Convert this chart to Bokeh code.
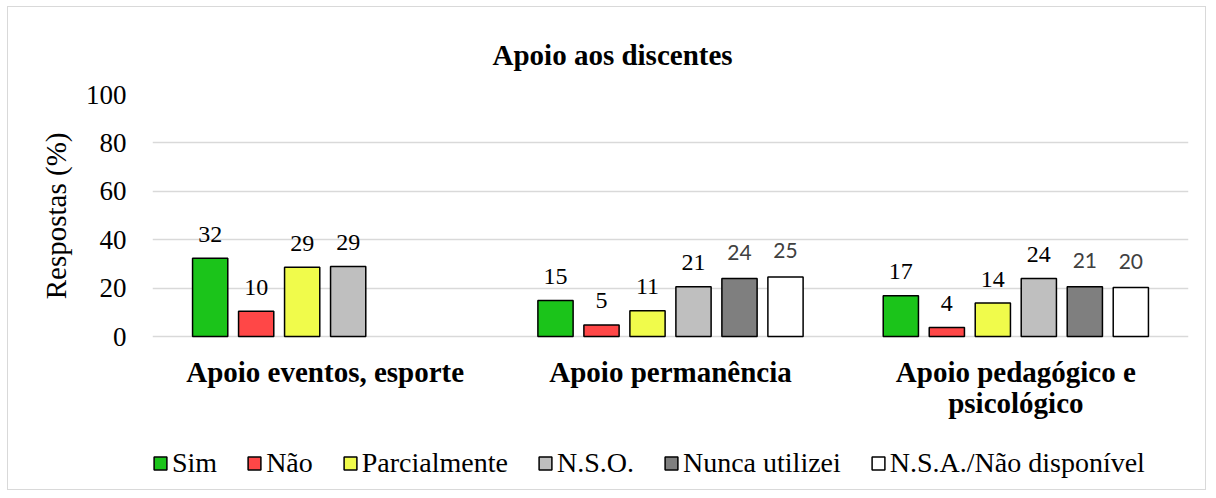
from bokeh.plotting import figure
from bokeh.models import (FactorRange, Range1d, FixedTicker, ColumnDataSource,
                          Legend, LegendItem, Title)
from bokeh.transform import dodge
from bokeh.core.properties import value
from bokeh.embed import file_html
from bokeh.resources import INLINE

# ---------------- data ----------------
chart_title = "Apoio aos discentes"
y_title = "Respostas (%)"
categories = ["Apoio eventos, esporte", "Apoio permanência",
              "Apoio pedagógico e psicológico"]
category_lines = [["Apoio eventos, esporte"], ["Apoio permanência"],
                  ["Apoio pedagógico e", "psicológico"]]
series = ["Sim", "Não", "Parcialmente", "N.S.O.", "Nunca utilizei",
          "N.S.A./Não disponível"]
sim = [32.3, 14.9, 16.8]
nao = [10.4, 4.8, 3.7]
parcialmente = [28.6, 10.6, 13.8]
nso = [28.9, 20.6, 24.0]
nunca_utilizei = [None, 24.0, 20.6]
nsa_nao_disponivel = [None, 24.6, 20.2]
y_ticks = [0, 20, 40, 60, 80, 100]

values = [sim, nao, parcialmente, nso, nunca_utilizei, nsa_nao_disponivel]
colors = ["#1BC41A", "#FF4747", "#F0FB4B", "#BFBFBF", "#7F7F7F", "#FFFFFF"]
sans_label_series = {"Nunca utilizei", "N.S.A./Não disponível"}

SERIF = "Liberation Serif"
SANS = "Lato"

# ---------------- layout ----------------
PLOT_PX = 242      # height of the 0..100 band
BELOW_PX = 153     # room under the bars for category names and legend
y_min = -100.0 * BELOW_PX / PLOT_PX

p = figure(frame_width=1036, frame_height=PLOT_PX + BELOW_PX,
           x_range=FactorRange(factors=categories, range_padding=0),
           y_range=Range1d(y_min, 100),
           x_axis_location=None,
           output_backend="svg", toolbar_location=None,
           min_border_left=144, min_border_right=17,
           min_border_top=87, min_border_bottom=0)
p.styles = {"margin": "6px 0px 0px 7px", "border": "1px solid #d9d9d9"}
p.outline_line_color = None
p.background_fill_color = "white"
p.border_fill_color = "white"

# title
p.title.text = chart_title
p.title.text_font = SERIF
p.title.text_font_style = "bold"
p.title.text_font_size = "29px"
p.title.text_color = "black"
p.title.align = "left"
p.title.vertical_align = "top"
p.title.offset = 340
p.title.standoff = 44

# grid
p.xgrid.grid_line_color = None
p.ygrid.ticker = FixedTicker(ticks=y_ticks)
p.ygrid.grid_line_color = "#d9d9d9"
p.ygrid.grid_line_width = 1.5

# y axis
ya = p.yaxis[0]
ya.ticker = FixedTicker(ticks=y_ticks)
ya.axis_line_color = None
ya.major_tick_line_color = None
ya.minor_tick_line_color = None
ya.major_tick_out = 0
ya.major_label_standoff = 26
ya.major_label_text_font = SERIF
ya.major_label_text_font_size = "27px"
ya.major_label_text_color = "black"

# y axis title, placed beside the 0..100 band
p.add_layout(Title(text=y_title, align="right", vertical_align="bottom",
                   offset=38, standoff=22, text_font=SERIF,
                   text_font_style="normal", text_font_size="29px",
                   text_color="black"), "left")

# category names under the bars
cx, cy, ct, co = [], [], [], []
for c, lines in zip(categories, category_lines):
    for k, line in enumerate(lines):
        cx.append(c)
        cy.append(0)
        ct.append(line)
        co.append(19 + 31 * k)
p.text(x="x", y="y", text="t", y_offset="o",
       source=ColumnDataSource(dict(x=cx, y=cy, t=ct, o=co)),
       text_align="center", text_baseline="top", text_font=value(SERIF),
       text_font_style="bold", text_font_size="29px", text_color="black")

n = len(series)
step = 0.1332
bar_w = 0.102
items = []
for j, (name, vals, col) in enumerate(zip(series, values, colors)):
    cats = [c for c, v in zip(categories, vals) if v is not None]
    vs = [v for v in vals if v is not None]
    labels = [str(int(round(v))) for v in vs]
    src = ColumnDataSource(dict(cat=cats, val=vs, lab=labels))
    off = (j - (n - 1) / 2) * step
    r = p.vbar(x=dodge("cat", off, range=p.x_range), top="val", width=bar_w,
               bottom=0, source=src, fill_color=col, line_color="black",
               line_width=1.5)
    items.append(LegendItem(label=name, renderers=[r]))
    if name in sans_label_series:
        p.text(x=dodge("cat", off, range=p.x_range), y="val", text="lab",
               source=src, text_align="center", text_baseline="alphabetic",
               y_offset=-26, text_font=value(SANS), text_font_size="21px",
               text_color="#404040")
    else:
        p.text(x=dodge("cat", off, range=p.x_range), y="val", text="lab",
               source=src, text_align="center", text_baseline="alphabetic",
               y_offset=-24, text_font=value(SERIF), text_font_size="24px",
               text_color="black")

legend = Legend(items=items, orientation="horizontal", location=(0, 10),
                glyph_width=16, glyph_height=16, label_standoff=4, spacing=29,
                padding=0, margin=0, border_line_color=None,
                background_fill_alpha=0,
                label_text_font=SERIF, label_text_font_size="28px",
                label_text_color="black")
p.add_layout(legend, "center")

open("out.html", "w").write(file_html(p, INLINE))
